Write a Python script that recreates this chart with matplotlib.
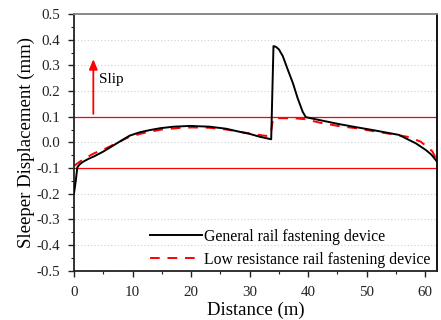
import numpy as np
import matplotlib
matplotlib.use('Agg')
import matplotlib.pyplot as plt
from matplotlib.ticker import MultipleLocator

plt.rcParams['font.family'] = 'Liberation Serif'

# values
general_x = [0, 0.3, 0.57, 1.0, 1.6, 2.5, 3.3, 5.0, 7.3, 9.5, 11.2, 13.0, 14.7, 17, 19.8, 23.2, 26,
             28.3, 30, 31.7, 33.68, 34.07, 34.5, 35.0, 35.66, 36.5, 37.4, 38.2, 39.06, 39.6, 41.9,
             45.3, 48.2, 51, 55.5, 58.4, 60.1, 61.0, 61.8, 62]
general_y = [-0.199, -0.15, -0.097, -0.085, -0.075, -0.064, -0.056, -0.036, -0.004, 0.026, 0.039,
             0.048, 0.055, 0.061, 0.064, 0.061, 0.053, 0.041, 0.033, 0.022, 0.012, 0.375, 0.372,
             0.362, 0.336, 0.284, 0.23, 0.172, 0.119, 0.098, 0.087, 0.071, 0.059, 0.048, 0.029,
             -0.004, -0.03, -0.047, -0.069, -0.075]

low_x = [0, 1.0, 2.6, 3.4, 5.5, 7.5, 9.5, 12, 15, 18, 20, 23, 26, 28.3, 30, 32.8, 33.6, 34.0,
         36, 38, 39.6, 41.9, 45.3, 48.2, 51, 54, 56.9, 59.2, 60.3, 61.2, 61.8, 62]
low_y = [-0.092, -0.075, -0.053, -0.043, -0.023, 0.0, 0.022, 0.037, 0.05, 0.056, 0.058, 0.057,
         0.05, 0.041, 0.035, 0.025, 0.03, 0.094, 0.094, 0.093, 0.09, 0.077, 0.063, 0.055, 0.044,
         0.033, 0.022, 0.003, -0.017, -0.035, -0.062, -0.07]

limit_lines = [0.1, -0.1]

fig = plt.figure(figsize=(4.41, 3.2), dpi=100)
ax = fig.add_axes([74/441, 1 - 270.7/320, (437 - 74)/441, (270.7 - 14)/320])

for v in np.arange(-0.4, 0.45, 0.1):
    ax.axhline(v, color='#d0d0d0', lw=0.8, ls=(0, (1, 2)), zorder=0)
for v in limit_lines:
    ax.axhline(v, color='#ff0000', lw=0.9, zorder=1)

ax.plot(general_x, general_y, color='black', lw=1.4, label='General rail fastening device', zorder=3)
ax.plot(low_x, low_y, color='#ff0000', lw=1.4, ls=(0, (5, 4)),
        label='Low resistance rail fastening device', zorder=2)

ax.annotate('', xy=(3.3, 0.335), xytext=(3.3, 0.1),
            arrowprops=dict(arrowstyle='-|>,head_length=0.6,head_width=0.25', color='#ff0000', lw=1.3))
ax.text(4.3, 0.245, 'Slip', fontsize=11, va='center', ha='left')

ax.set_xlim(0, 62)
ax.set_ylim(-0.5, 0.5)
ax.xaxis.set_major_locator(MultipleLocator(10))
ax.xaxis.set_minor_locator(MultipleLocator(5))
ax.yaxis.set_major_locator(MultipleLocator(0.1))
ax.yaxis.set_minor_locator(MultipleLocator(0.05))
ax.set_yticklabels([f'{t:.1f}' if abs(t) > 1e-9 else '0.0' for t in ax.get_yticks()])
ax.tick_params(which='major', direction='out', length=4, width=1, labelsize=10.8, colors='#222222')
ax.tick_params(which='minor', direction='out', length=2.5, width=0.8, colors='#222222')
ax.tick_params(axis='x', pad=7)
ax.tick_params(axis='y', pad=6)

for s in ['left', 'bottom']:
    ax.spines[s].set_linewidth(1.3)
    ax.spines[s].set_color('#222222')
ax.spines['top'].set_color('#808080')
ax.spines['top'].set_linewidth(1.3)
ax.spines['right'].set_color('black')
ax.spines['right'].set_linewidth(1.3)

ax.set_xlabel('Distance (m)', fontsize=13.5, labelpad=2)
ax.set_ylabel('Sleeper Displacement (mm)', fontsize=13.5, labelpad=1)

ax.legend(loc='lower right', frameon=False, fontsize=11.3, handlelength=3.3,
          handletextpad=0.15, labelspacing=0.45, borderaxespad=0.0, bbox_to_anchor=(1.0, -0.013))

fig.savefig('out.png', dpi=100)
